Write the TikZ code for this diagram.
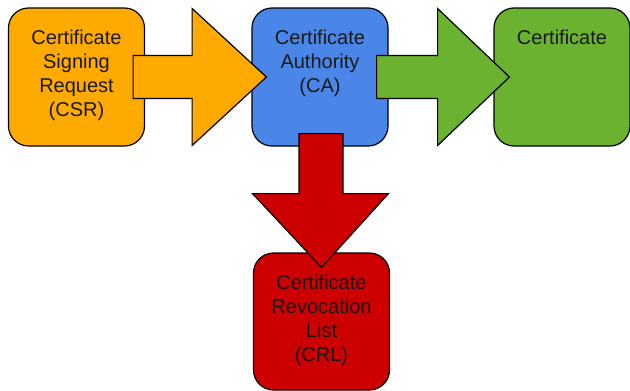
\documentclass[tikz,border=0pt]{standalone}
\usepackage{fontspec}
\setmainfont{Liberation Sans}
\usetikzlibrary{positioning,calc}
\definecolor{csrorange}{RGB}{255,170,0}
\definecolor{cablue}{RGB}{74,134,232}
\definecolor{certgreen}{RGB}{106,178,48}
\definecolor{crlred}{RGB}{204,0,0}

\begin{document}
\begin{tikzpicture}[x=1pt,y=1pt,
    box/.style={draw=black,line width=1.2pt,rounded corners=20pt,minimum width=136pt,minimum height=138pt,inner sep=0pt},
    boxtext/.style={align=center,inner sep=0pt,text=black!90,font=\fontsize{20}{24}\selectfont},
    blockarrow/.style={draw=black,line width=1.2pt,line join=miter}]
  \useasboundingbox (0,0) rectangle (630,-391);

  % Draw the four boxes
  \node[box,fill=csrorange] (csr) at (76.5,-77) {};
  \node[box,fill=cablue] (ca) at (320,-77) {};
  \node[box,fill=certgreen] (cert) at (562,-77) {};
  \node[box,fill=crlred,minimum height=137pt] (crl) at (321.5,-321.5) {};

  % Text at the top of each box
  \node[boxtext,below=22pt of csr.north] (csrtext) {Certificate\\Signing\\Request\\(CSR)};
  \node[boxtext,below=22pt of ca.north] (catext) {Certificate\\Authority\\(CA)};
  \node[boxtext,below=22pt of cert.north] (certtext) {Certificate};
  \node[boxtext,below=22pt of crl.north] (crltext) {Certificate\\Revocation\\List\\(CRL)};

  % Big arrows between the boxes
  \draw[blockarrow,fill=csrorange] ($(csr.east)+(-12,21.5)$) -- ($(csr.east)+(47,21.5)$)
    -- ($(csr.east)+(47,68.5)$) -- ($(ca.west)+(15,0)$) -- ($(csr.east)+(47,-68.5)$)
    -- ($(csr.east)+(47,-21.5)$) -- ($(csr.east)+(-12,-21.5)$) -- cycle;
  \draw[blockarrow,fill=certgreen] ($(ca.east)+(-12,21.5)$) -- ($(ca.east)+(49,21.5)$)
    -- ($(ca.east)+(49,68.5)$) -- ($(cert.west)+(16,0)$) -- ($(ca.east)+(49,-68.5)$)
    -- ($(ca.east)+(49,-21.5)$) -- ($(ca.east)+(-12,-21.5)$) -- cycle;
  \draw[blockarrow,fill=crlred] ($(ca.south)+(-21,13)$) -- ($(ca.south)+(-21,-47)$)
    -- ($(ca.south)+(-67.5,-47)$) -- ($(crl.north)+(0,-15)$) -- ($(ca.south)+(68.5,-47)$)
    -- ($(ca.south)+(23,-47)$) -- ($(ca.south)+(23,13)$) -- cycle;
\end{tikzpicture}
\end{document}
